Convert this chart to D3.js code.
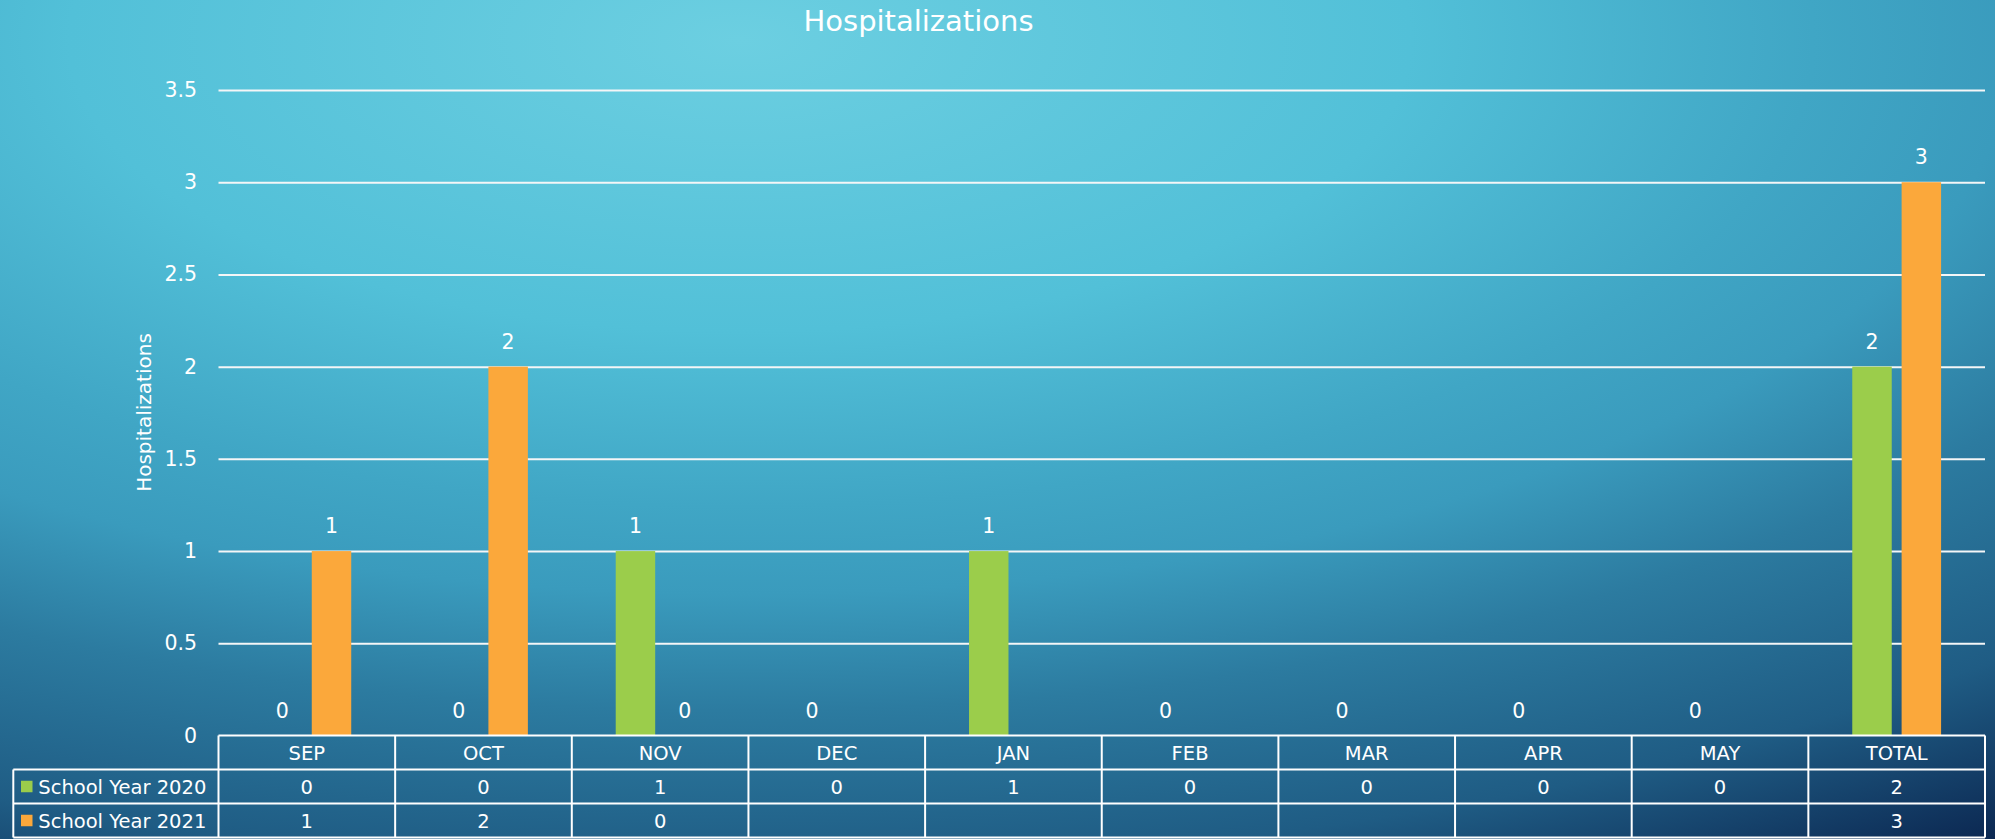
<!DOCTYPE html>
<html><head><meta charset="utf-8">
<script src="https://cdn.jsdelivr.net/npm/d3@7"></script>
<style>html,body{margin:0;padding:0;overflow:hidden;background:#2a7ea3}svg{display:block}</style>
</head><body><svg id="c" width="1995" height="839"></svg>
<script>
const categories = ["SEP","OCT","NOV","DEC","JAN","FEB","MAR","APR","MAY","TOTAL"];
const seriesNames = ["School Year 2020","School Year 2021"];
const sy2020 = [0,0,1,0,1,0,0,0,0,2];
const sy2021 = [1,2,0,null,null,null,null,null,null,3];
const yTicks = [0,0.5,1,1.5,2,2.5,3,3.5];
const yTickLabels = ["0","0.5","1","1.5","2","2.5","3","3.5"];
const seriesColors = ["#9bcd4b","#fba83b"];
const titleText = "Hospitalizations";
const yTitleText = "Hospitalizations";

const W = 1995, H = 839;
const FONT = "'DejaVu Sans', sans-serif";
const svg = d3.select("#c");

// background gradient
const defs = svg.append("defs");
const cx = 740, cy = 40;
const grad = defs.append("radialGradient").attr("id","bg")
  .attr("gradientUnits","userSpaceOnUse")
  .attr("cx",cx).attr("cy",cy).attr("fx",cx).attr("fy",cy).attr("r",972)
  .attr("gradientTransform",`translate(${cx} ${cy}) scale(2.3 1) translate(${-cx} ${-cy})`);
[[0,"#6ccfe1"],[0.3,"#52c0d8"],[0.48,"#40a6c5"],[0.57,"#3a9bbd"],[0.69,"#2c7ba0"],[0.85,"#1f5c84"],[1,"#0b2650"]]
  .forEach(([o,c])=>grad.append("stop").attr("offset",o).attr("stop-color",c));
svg.append("rect").attr("width",W).attr("height",H).attr("fill","url(#bg)");

const plotL = 218.5, plotR = 1985, plotT = 90, plotB = 735.5;
const y = d3.scaleLinear().domain([0,3.5]).range([plotB, plotT]);
const x0 = d3.scaleBand().domain(categories).range([plotL, plotR]).padding(0);
const x1 = d3.scaleBand().domain(seriesNames).range([0, x0.bandwidth()]).paddingInner(0.2).paddingOuter(0.89);

// gridlines + tick labels
const yAxis = d3.axisLeft(y).tickValues(yTicks)
  .tickFormat((d,i)=>yTickLabels[i])
  .tickSize(-(plotR-plotL)).tickPadding(21.5);
const gy = svg.append("g").attr("transform",`translate(${plotL},0)`).call(yAxis);
gy.select(".domain").remove();
gy.selectAll(".tick line").attr("stroke","#f4f6f7").attr("stroke-width",2)
  .filter(d=>d===0).remove();
gy.selectAll(".tick text").attr("fill","#ffffff").attr("font-family",FONT).attr("font-size",20.5);

// bars
const seriesData = [sy2020, sy2021];
const groups = svg.append("g");
seriesData.forEach((vals, si)=>{
  const s = seriesNames[si];
  categories.forEach((c, ci)=>{
    const v = vals[ci];
    if (v === null) return;
    const bx = x0(c) + x1(s);
    if (v > 0) {
      groups.append("rect").attr("x", bx).attr("y", y(v))
        .attr("width", x1.bandwidth()).attr("height", y(0) - y(v))
        .attr("fill", seriesColors[si]);
    }
    groups.append("text").attr("x", bx + x1.bandwidth()/2).attr("y", y(v) - 18)
      .attr("text-anchor","middle").attr("fill","#fff")
      .attr("font-family",FONT).attr("font-size",20.5).text(v);
  });
});

// title
svg.append("text").attr("x",918.5).attr("y",31).attr("text-anchor","middle")
  .attr("fill","#fff").attr("font-family",FONT).attr("font-size",29).text(titleText);
// y axis title
svg.append("text").attr("transform","translate(151,412.5) rotate(-90)")
  .attr("text-anchor","middle").attr("fill","#fff")
  .attr("font-family",FONT).attr("font-size",20).text(yTitleText);

// data table
const rowH = 34;
const rows = [plotB, plotB+rowH, plotB+2*rowH, plotB+3*rowH];
const tableL = 13.3;
const tg = svg.append("g").attr("stroke","#ffffff").attr("stroke-width",2);
tg.append("line").attr("x1",plotL).attr("x2",plotR).attr("y1",rows[0]).attr("y2",rows[0]);
[1,2,3].forEach(i=>tg.append("line").attr("x1",tableL).attr("x2",plotR).attr("y1",rows[i]).attr("y2",rows[i]));
tg.append("line").attr("x1",tableL).attr("x2",tableL).attr("y1",rows[1]).attr("y2",rows[3]);
categories.forEach(c=>tg.append("line").attr("x1",x0(c)).attr("x2",x0(c)).attr("y1",rows[0]).attr("y2",rows[3]));
tg.append("line").attr("x1",plotR).attr("x2",plotR).attr("y1",rows[0]).attr("y2",rows[3]);

const tt = svg.append("g").attr("fill","#fff").attr("font-family",FONT).attr("font-size",19.5);
categories.forEach((c, ci)=>{
  const mx = x0(c) + x0.bandwidth()/2;
  tt.append("text").attr("x",mx).attr("y",rows[0]+rowH/2).attr("dy","0.36em")
    .attr("text-anchor","middle").text(c);
  seriesData.forEach((vals, si)=>{
    if (vals[ci] === null) return;
    tt.append("text").attr("x",mx).attr("y",rows[si+1]+rowH/2).attr("dy","0.36em")
      .attr("text-anchor","middle").text(vals[ci]);
  });
});
seriesNames.forEach((s, si)=>{
  const cyR = rows[si+1] + rowH/2;
  svg.append("rect").attr("x",21).attr("y",cyR-5.75).attr("width",11.5).attr("height",11.5)
    .attr("fill",seriesColors[si]);
  tt.append("text").attr("x",38.3).attr("y",cyR).attr("dy","0.36em").attr("font-size",19.5).text(s);
});
</script>
</body></html>
